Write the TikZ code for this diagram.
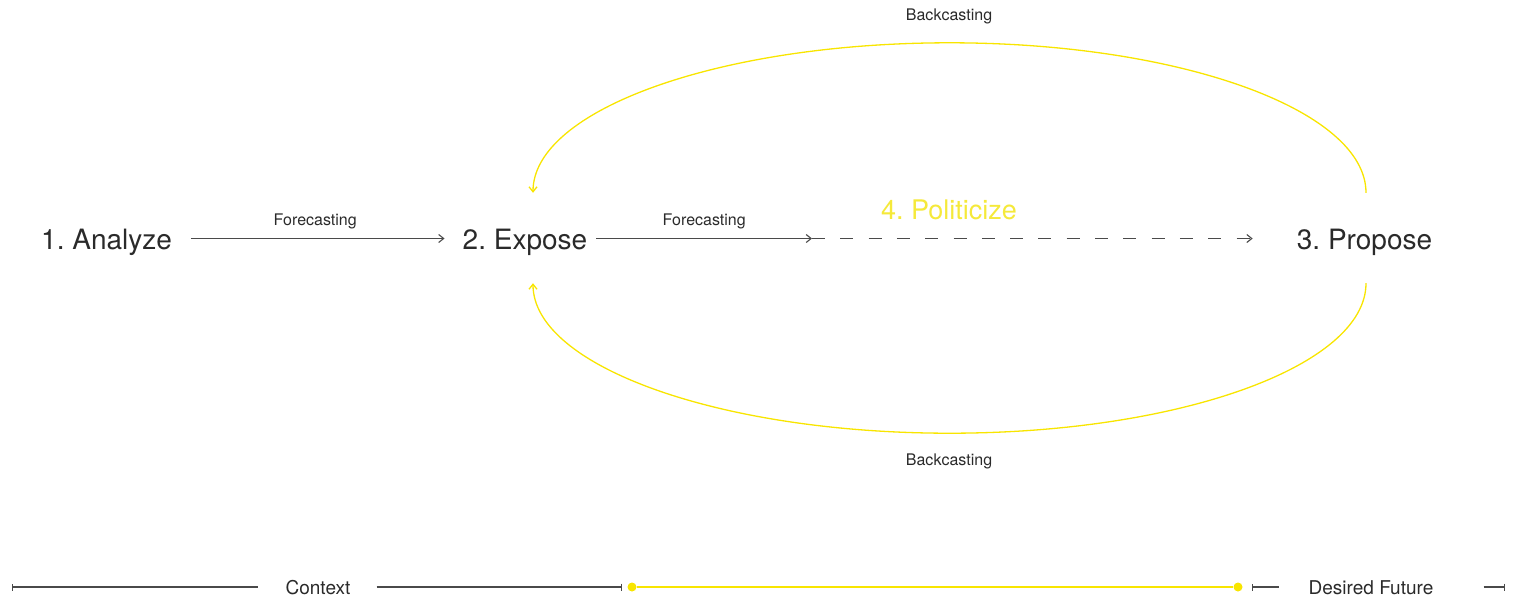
\documentclass[tikz,border=0pt]{standalone}
\usepackage{fontspec}
\setmainfont{TeX Gyre Heros}
\usetikzlibrary{arrows.meta}
\definecolor{ink}{HTML}{2A2A2A}
\definecolor{ln}{HTML}{4A4A4A}
\definecolor{yel}{HTML}{F8E500}
\definecolor{yeltext}{HTML}{F5E93A}
\frenchspacing
\begin{document}
\begin{tikzpicture}[x=1pt,y=-1pt,
  big/.style={font=\fontsize{28}{30}\selectfont, text=ink, inner sep=0pt, text height=21pt, text depth=0pt, anchor=base},
  small/.style={font=\fontsize{16}{18}\selectfont, text=ink, inner sep=0pt, anchor=base},
  mid/.style={font=\fontsize{19}{21}\selectfont, text=ink, inner sep=0pt, text height=14pt, text depth=0pt, anchor=base},
  fc/.style={draw=ln, line width=1.1pt, -{Straight Barb[length=5pt,width=8pt]}},
  dsh/.style={draw=ln, line width=1.1pt, dash pattern=on 13pt off 15.3pt, -{Straight Barb[length=5pt,width=8pt]}},
  bc/.style={draw=yel, line width=1.3pt, -{Straight Barb[length=5pt,width=8pt]}},
  tl/.style={draw=ln, line width=1.2pt},
  yl/.style={draw=yel, line width=2.6pt},
  dot/.style={circle, fill=yel, inner sep=0pt, minimum size=9pt}
]
\useasboundingbox (0,0) rectangle (1513,598);

% main nodes
\node[big] (a) at (106.5,249) {1. Analyze};
\node[big] (e) at (525,249) {2. Expose};
\node[big] (p) at (1364.5,249) {3. Propose};
\node[big, font=\fontsize{27}{29}\selectfont, text=yeltext] (pol) at (949,219) {4. Politicize};

% forecasting arrows
\draw[fc] ([xshift=19pt]a.east) -- ([xshift=-18pt]e.west)
  node[small, pos=0.49, yshift=13pt] (f1) {Forecasting};
\coordinate (m) at (812,238.5);
\draw[fc] ([xshift=9pt]e.east) -- (m)
  node[small, pos=0.5, yshift=13pt] (f2) {Forecasting};
\draw[dsh] (m) -- ([xshift=-44pt]p.west);

% backcasting arcs
\coordinate (pt) at ([xshift=1.5pt,yshift=35pt]p.north);
\coordinate (pb) at ([xshift=1.5pt,yshift=-34pt]p.south);
\draw[bc] (pt) arc[start angle=0, end angle=180, x radius=416.5pt, y radius=150pt];
\draw[bc] (pb) arc[start angle=0, end angle=-180, x radius=416.5pt, y radius=150pt];
\node[small] (b1) at (949,20) {Backcasting};
\node[small] (b2) at (949,465) {Backcasting};

% timeline
\node[mid] (ctx) at (318,594) {Context};
\node[mid] (df) at (1371,594) {Desired Future};
\coordinate (t0) at (12,587);
\coordinate (t3) at (1505,587);
\node[dot] (y1) at (632,587) {};
\node[dot] (y2) at (1238,587) {};
\draw[tl, {Bar[width=7pt]}-] (t0) -- ([xshift=-27pt]ctx.west);
\draw[tl, -{Bar[width=7pt]}] ([xshift=26pt]ctx.east) -- ([xshift=-10pt]y1.center);
\draw[yl] (y1) -- (y2);
\draw[tl, {Bar[width=7pt]}-] ([xshift=14pt]y2.center) -- ([xshift=-30pt]df.west);
\draw[tl, -{Bar[width=7pt]}] ([xshift=50pt]df.east) -- (t3);
\end{tikzpicture}
\end{document}
